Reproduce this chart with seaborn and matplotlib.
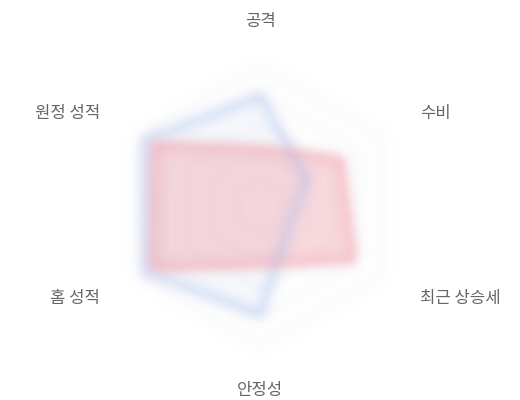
import numpy as np
import matplotlib
matplotlib.use("Agg")
import matplotlib.pyplot as plt
import seaborn as sns

categories = ["공격", "수비", "최근 상승세", "안정성", "홈 성적", "원정 성적"]
team_blue = [0.79, 0.39, 0.25, 0.78, 0.95, 0.95]
team_red = [0.41, 0.67, 0.77, 0.42, 0.89, 0.88]
grid_levels = [0.2, 0.4, 0.6, 0.8, 1.0]

sns.set_theme(style="white")
plt.rcParams["font.family"] = ["Noto Sans CJK KR", "DejaVu Sans"]


def gauss_blur(sigma):
    # soft, blurred look of the shapes
    def _filter(im, dpi):
        s = sigma * dpi / 100.0
        pad = int(3 * s) + 1
        im = np.pad(im, ((pad, pad), (pad, pad), (0, 0)))
        x = np.arange(-pad, pad + 1)
        k = np.exp(-x ** 2 / (2 * s * s))
        k /= k.sum()
        a = im[..., 3:4]
        pm = np.concatenate([im[..., :3] * a, a], axis=2)
        pm = np.apply_along_axis(lambda v: np.convolve(v, k, mode="same"), 0, pm)
        pm = np.apply_along_axis(lambda v: np.convolve(v, k, mode="same"), 1, pm)
        a2 = pm[..., 3:4]
        rgb = pm[..., :3] / np.maximum(a2, 1e-6)
        out = np.clip(np.concatenate([rgb, a2], axis=2), 0, 1)
        return out, -pad, -pad
    return _filter


n = len(categories)
theta = np.linspace(0, 2 * np.pi, n, endpoint=False)
theta_c = np.append(theta, theta[0])

fig = plt.figure(figsize=(5.2, 4.0), dpi=100)
ax = fig.add_axes([0.2327, 0.1375, 0.5346, 0.695], projection="polar")
ax.set_theta_offset(np.pi / 2)
ax.set_theta_direction(-1)
ax.set_ylim(0, 1)
ax.grid(False)
ax.spines["polar"].set_visible(False)
ax.set_xticks([])
ax.set_yticks([])
ax.patch.set_alpha(0)

blur = gauss_blur(5.5)

for lv in grid_levels:
    g, = ax.plot(theta_c, [lv] * (n + 1), color="#e9ebf2", lw=1.6, zorder=1)
    g.set_agg_filter(blur)

for vals, line_c, fill_c, fill_a, line_a in [
    (team_blue, "#a6bcf0", "#c9d6f6", 0.14, 0.6),
    (team_red, "#ee8e9b", "#f0a0ab", 0.4, 0.6),
]:
    v = np.append(vals, vals[0])
    f = ax.fill(theta_c, v, color=fill_c, alpha=fill_a, lw=0, zorder=2)[0]
    f.set_agg_filter(blur)
    sns.lineplot(x=theta_c, y=v, sort=False, estimator=None, ax=ax,
                 color=line_c, lw=5.0, alpha=line_a, zorder=3)
    ax.lines[-1].set_agg_filter(blur)

label_r = 1.33
for ang, lab in zip(theta, categories):
    s = np.sin(ang)
    ha = "center" if abs(s) < 0.1 else ("left" if s > 0 else "right")
    ax.text(ang, label_r, lab, ha=ha, va="center", fontsize=12,
            color="#666666", clip_on=False)

fig.savefig("out.png", dpi=100)
